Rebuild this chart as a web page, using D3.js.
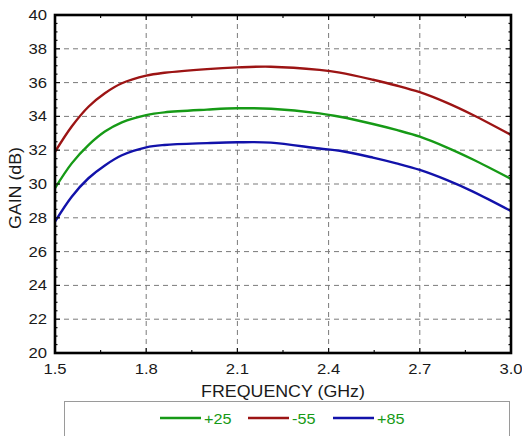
<!DOCTYPE html>
<html>
<head>
<meta charset="utf-8">
<script src="https://cdn.jsdelivr.net/npm/d3@7"></script>
<style>
  html, body { margin: 0; padding: 0; background: #fff; }
  svg { display: block; }
  text { font-family: "Liberation Sans", Arial, sans-serif; fill: #1a1a1a; }
</style>
</head>
<body>
<svg id="chart" width="522" height="436"></svg>
<script>
// Gain vs frequency at three temperatures
const freqGHz = [1.5, 1.555, 1.61, 1.664, 1.72, 1.8, 1.86, 2.0, 2.1, 2.21, 2.37, 2.437, 2.546, 2.623, 2.7, 2.788, 2.875, 3.0];
const gainM55 = [31.9, 33.4, 34.57, 35.37, 35.96, 36.41, 36.58, 36.8, 36.9, 36.94, 36.75, 36.59, 36.17, 35.83, 35.43, 34.81, 34.08, 32.9];
const gainP25 = [29.75, 31.22, 32.3, 33.1, 33.65, 34.08, 34.24, 34.4, 34.48, 34.45, 34.18, 33.98, 33.55, 33.2, 32.8, 32.17, 31.45, 30.3];
const gainP85 = [27.77, 29.25, 30.34, 31.1, 31.7, 32.17, 32.31, 32.42, 32.47, 32.45, 32.1, 31.97, 31.56, 31.22, 30.83, 30.24, 29.55, 28.4];

const xTicks = [1.5, 1.8, 2.1, 2.4, 2.7, 3.0];
const yTicks = [20, 22, 24, 26, 28, 30, 32, 34, 36, 38, 40];
const legendNames = ["+25", "-55", "+85"];

const colors = { "+25": "#169a16", "-55": "#9c1414", "+85": "#1212aa" };
const series = [
  { name: "+25", values: gainP25 },
  { name: "-55", values: gainM55 },
  { name: "+85", values: gainP85 }
];

const svg = d3.select("#chart");
const pL = 55, pR = 511, pT = 15, pB = 353;

const x = d3.scaleLinear().domain([1.5, 3.0]).range([pL, pR]);
const y = d3.scaleLinear().domain([20, 40]).range([pB, pT]);

// dashed grid
const grid = svg.append("g").attr("stroke", "#7a7a7a").attr("stroke-width", 1)
  .attr("stroke-dasharray", "5,4").attr("fill", "none");
xTicks.slice(1, -1).forEach(t => {
  grid.append("line").attr("x1", x(t)).attr("x2", x(t)).attr("y1", pT).attr("y2", pB);
});
yTicks.slice(1, -1).forEach(t => {
  grid.append("line").attr("x1", pL).attr("x2", pR).attr("y1", y(t)).attr("y2", y(t));
});

// curves
const line = d3.line().x(d => x(d[0])).y(d => y(d[1])).curve(d3.curveCatmullRom.alpha(0.5));
const plot = svg.append("g");
series.forEach(s => {
  plot.append("path")
    .datum(freqGHz.map((f, i) => [f, s.values[i]]))
    .attr("d", line)
    .attr("fill", "none")
    .attr("stroke", colors[s.name])
    .attr("stroke-width", 2.4)
    .attr("stroke-linejoin", "round");
});

// inward ticks on all four sides
const ticks = svg.append("g").attr("stroke", "#111").attr("stroke-width", 1.2);
const xMinor = d3.range(1, 10).map(i => 1.5 + 0.15 * i);
xMinor.forEach((t, i) => {
  const len = (i % 2 === 1) ? 5 : 3;
  ticks.append("line").attr("x1", x(t)).attr("x2", x(t)).attr("y1", pB).attr("y2", pB - len);
  ticks.append("line").attr("x1", x(t)).attr("x2", x(t)).attr("y1", pT).attr("y2", pT + len);
});
const yMinor = d3.range(20.5, 40, 0.5);
yMinor.forEach(t => {
  const major = Math.abs(t - Math.round(t)) < 1e-6 && Math.round(t) % 2 === 0;
  const len = major ? 5 : 2.5;
  ticks.append("line").attr("x1", pL).attr("x2", pL + len).attr("y1", y(t)).attr("y2", y(t));
  ticks.append("line").attr("x1", pR).attr("x2", pR - len).attr("y1", y(t)).attr("y2", y(t));
});

// frame
svg.append("rect")
  .attr("x", pL).attr("y", pT)
  .attr("width", pR - pL).attr("height", pB - pT)
  .attr("fill", "none").attr("stroke", "#000").attr("stroke-width", 2.6);

// tick labels (slightly wide lettering)
const yLab = svg.append("g");
yTicks.forEach(t => {
  yLab.append("text")
    .attr("transform", `translate(${pL - 8},${y(t) + 5}) scale(1.15,1)`)
    .attr("text-anchor", "end")
    .attr("font-size", 14.5)
    .text(t);
});
const xLab = svg.append("g");
xTicks.forEach(t => {
  xLab.append("text")
    .attr("transform", `translate(${x(t)},${pB + 21}) scale(1.15,1)`)
    .attr("text-anchor", "middle")
    .attr("font-size", 14.5)
    .text(t.toFixed(1));
});

// axis titles
svg.append("text")
  .attr("transform", `translate(${(pL + pR) / 2},${pB + 44}) scale(1.08,1)`)
  .attr("text-anchor", "middle")
  .attr("font-size", 16.5)
  .text("FREQUENCY (GHz)");
svg.append("text")
  .attr("transform", `translate(21,${(pT + pB) / 2 + 4}) rotate(-90) scale(1.08,1)`)
  .attr("text-anchor", "middle")
  .attr("font-size", 16.5)
  .text("GAIN (dB)");

// legend
svg.append("rect")
  .attr("x", 64.5).attr("y", 401.5).attr("width", 445).attr("height", 60)
  .attr("fill", "#fff").attr("stroke", "#9a9a9a").attr("stroke-width", 1);
const legendX = [160, 248, 333];
const lg = svg.append("g");
legendNames.forEach((n, i) => {
  lg.append("line")
    .attr("x1", legendX[i]).attr("x2", legendX[i] + 41)
    .attr("y1", 418).attr("y2", 418)
    .attr("stroke", colors[n]).attr("stroke-width", 2.4);
  lg.append("text")
    .attr("transform", `translate(${legendX[i] + 44},423.5) scale(1.12,1)`)
    .attr("font-size", 14.5)
    .style("fill", colors["+25"])
    .text(n);
});
</script>
</body>
</html>
